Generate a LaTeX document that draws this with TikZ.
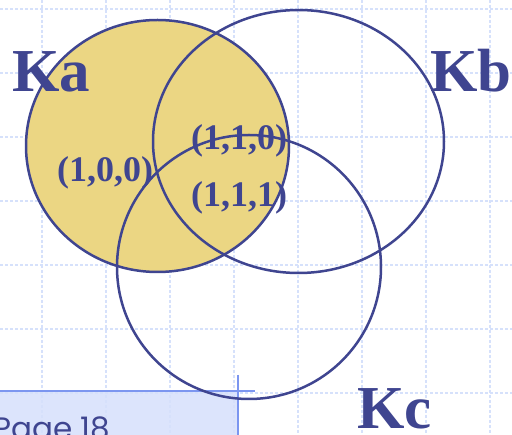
\documentclass[tikz,border=0pt]{standalone}
\usepackage{fontspec}
\setmainfont{Liberation Serif}
\newfontfamily\pagefont{Poppins}
\definecolor{inkblue}{RGB}{63,69,144}
\definecolor{setfill}{RGB}{235,214,131}
\definecolor{gridblue}{RGB}{214,225,251}
\definecolor{barblue}{RGB}{124,150,240}
\definecolor{boxblue}{RGB}{214,224,252}
\begin{document}
\begin{tikzpicture}[
    x=1pt,y=-1pt,
    gridline/.style={gridblue,line width=1.5pt,dash pattern=on 3pt off 2pt},
    ring/.style={inkblue,line width=2.5pt},
    setname/.style={inkblue,inner sep=0pt,anchor=base west,font=\bfseries\fontsize{61}{61}\selectfont},
    coord/.style={inkblue,inner sep=0pt,anchor=base west,font=\bfseries\fontsize{36}{36}\selectfont}
]
\useasboundingbox (0,0) rectangle (512,435);
\clip (0,0) rectangle (512,435);
\fill[white] (0,0) rectangle (512,435);

% background grid
\foreach \x in {42,106,...,490}
    \draw[gridline] (\x,0) -- (\x,435);
\foreach \y in {9,73,...,393}
    \draw[gridline] (0,\y) -- (512,\y);

% footer box
\fill[boxblue,fill opacity=0.85] (0,391) rectangle (238,435);
\draw[barblue,line width=2pt] (0,391) -- (255,391);
\draw[barblue,line width=2pt] (238,375) -- (238,435);
\node[inkblue,inner sep=0pt,anchor=base west,font=\pagefont\fontsize{31}{31}\selectfont] (page) at (-7,440) {Page 18};

% the three sets
\fill[setfill] (157.5,146) ellipse [x radius=131.5,y radius=126];
\draw[ring] (157.5,146) ellipse [x radius=131.5,y radius=126];
\draw[ring] (298.5,141.5) ellipse [x radius=145.5,y radius=131.5];
\draw[ring] (249,267) circle [radius=132];

\node[setname] (ka) at (12,92) {Ka};
\node[setname] (kb) at (430,92) {Kb};
\node[setname] (kc) at (357,429) {Kc};

\node[coord] (only-a) at (57,182) {(1,0,0)};
\node[coord] (ab) at (191,150) {(1,1,0)};
\node[coord] (abc) at (191,207) {(1,1,1)};
\end{tikzpicture}
\end{document}
